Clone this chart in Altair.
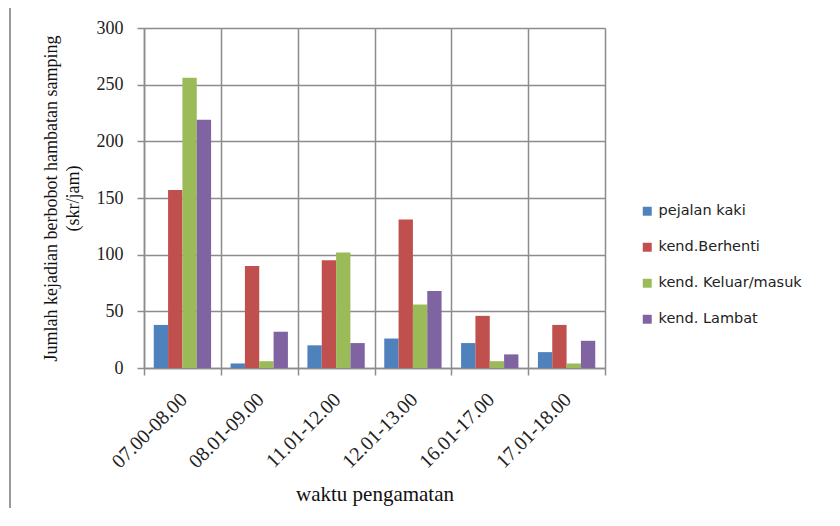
import altair as alt
import pandas as pd

categories = ["07.00-08.00", "08.01-09.00", "11.01-12.00", "12.01-13.00", "16.01-17.00", "17.01-18.00"]
series = ["pejalan kaki", "kend.Berhenti", "kend. Keluar/masuk", "kend. Lambat"]
pejalan_kaki = [38, 4, 20, 26, 22, 14]
kend_berhenti = [157, 90, 95, 131, 46, 38]
kend_keluar_masuk = [256, 6, 102, 56, 6, 4]
kend_lambat = [219, 32, 22, 68, 12, 24]
colors = ["#4F81BD", "#C0504D", "#9BBB59", "#8064A2"]

rows = []
for name, vals in zip(series, [pejalan_kaki, kend_berhenti, kend_keluar_masuk, kend_lambat]):
    for c, v in zip(categories, vals):
        rows.append({"waktu": c, "seri": name, "nilai": v})
df = pd.DataFrame(rows)

grid_color = "#8c8c8c"

bars = alt.Chart(df).mark_bar().encode(
    x=alt.X("waktu:N", sort=categories,
            scale=alt.Scale(paddingInner=0, paddingOuter=0),
            axis=alt.Axis(title="waktu pengamatan", labelAngle=-45, tickBand="extent",
                          grid=True, gridColor=grid_color, gridWidth=1.5,
                          domainColor=grid_color, domainWidth=1.5,
                          tickColor=grid_color, tickWidth=1.5, tickSize=7,
                          labelFont="Liberation Serif", labelFontSize=20, labelColor="#222",
                          labelPadding=14, labelOffset=-6,
                          titleFont="Liberation Serif", titleFontSize=21, titleFontWeight="normal",
                          titleColor="#111", titlePadding=12)),
    xOffset=alt.XOffset("seri:N", sort=series,
                        scale=alt.Scale(paddingInner=0, paddingOuter=0.68)),
    y=alt.Y("nilai:Q", scale=alt.Scale(domain=[0, 300]),
            axis=alt.Axis(title=["Jumlah kejadian berbobot hambatan samping", "(skr/jam)"],
                          values=[0, 50, 100, 150, 200, 250, 300], format="d",
                          grid=True, gridColor=grid_color, gridWidth=1.5,
                          domainColor=grid_color, domainWidth=1.5,
                          tickColor=grid_color, tickWidth=1.5, tickSize=7,
                          labelFont="Liberation Serif", labelFontSize=18, labelColor="#222",
                          labelPadding=14,
                          titleFont="Liberation Serif", titleFontSize=18, titleFontWeight="normal",
                          titleColor="#111", titleLineHeight=22, titlePadding=14)),
    color=alt.Color("seri:N", sort=series,
                    scale=alt.Scale(domain=series, range=colors),
                    legend=alt.Legend(title=None, orient="none", legendX=496, legendY=176,
                                      symbolType="square", symbolSize=80, symbolStrokeWidth=0,
                                      labelFont="DejaVu Sans", labelFontSize=14.5, labelColor="#222",
                                      rowPadding=21, labelOffset=4)),
)

frame_left = alt.Chart(df).mark_rule(clip=False, color="#9a9a9a", strokeWidth=2).encode(
    x=alt.value(-134), y=alt.value(-23), y2=alt.value(498))
frame_top = alt.Chart(df).mark_rule(clip=False, color="#9a9a9a", strokeWidth=2).encode(
    x=alt.value(-134), x2=alt.value(700), y=alt.value(-23))

chart = alt.layer(bars, frame_left, frame_top).properties(
    width=461, height=340,
    autosize=alt.AutoSizeParams(type="none"),
    padding={"left": 136, "top": 20, "right": 220, "bottom": 140},
).configure_view(stroke=grid_color, strokeWidth=1.5).configure(background="white")

chart.save("out.html", embed_options={"renderer": "svg", "actions": False})
